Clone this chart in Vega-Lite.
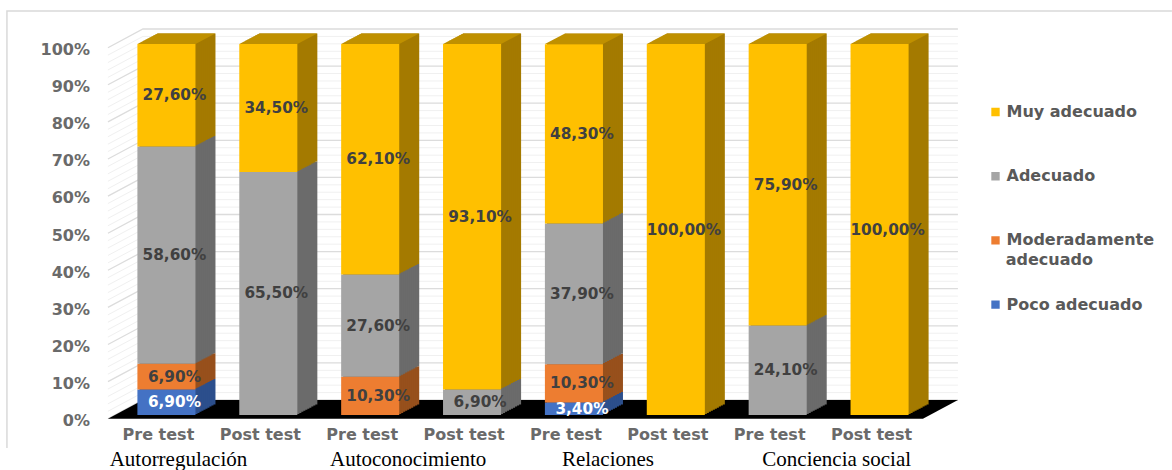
{"$schema":"https://vega.github.io/schema/vega-lite/v6.json","width":815,"height":371,"autosize":{"type":"none"},"padding":{"left":115.5,"top":44,"right":241.5,"bottom":55},"background":"white","config":{"view":{"stroke":null},"text":{"font":"DejaVu Sans"}},
"datasets":{
"bars":[
{"bar":"Autorregulación|Pre test","level":"Poco adecuado","rank":1,"value":6.9,"label":"6,90%"},
{"bar":"Autorregulación|Pre test","level":"Moderadamente adecuado","rank":2,"value":6.9,"label":"6,90%"},
{"bar":"Autorregulación|Pre test","level":"Adecuado","rank":3,"value":58.6,"label":"58,60%"},
{"bar":"Autorregulación|Pre test","level":"Muy adecuado","rank":4,"value":27.6,"label":"27,60%"},
{"bar":"Autorregulación|Post test","level":"Adecuado","rank":3,"value":65.5,"label":"65,50%"},
{"bar":"Autorregulación|Post test","level":"Muy adecuado","rank":4,"value":34.5,"label":"34,50%"},
{"bar":"Autoconocimiento|Pre test","level":"Moderadamente adecuado","rank":2,"value":10.3,"label":"10,30%"},
{"bar":"Autoconocimiento|Pre test","level":"Adecuado","rank":3,"value":27.6,"label":"27,60%"},
{"bar":"Autoconocimiento|Pre test","level":"Muy adecuado","rank":4,"value":62.1,"label":"62,10%"},
{"bar":"Autoconocimiento|Post test","level":"Adecuado","rank":3,"value":6.9,"label":"6,90%"},
{"bar":"Autoconocimiento|Post test","level":"Muy adecuado","rank":4,"value":93.1,"label":"93,10%"},
{"bar":"Relaciones|Pre test","level":"Poco adecuado","rank":1,"value":3.4,"label":"3,40%"},
{"bar":"Relaciones|Pre test","level":"Moderadamente adecuado","rank":2,"value":10.3,"label":"10,30%"},
{"bar":"Relaciones|Pre test","level":"Adecuado","rank":3,"value":37.9,"label":"37,90%"},
{"bar":"Relaciones|Pre test","level":"Muy adecuado","rank":4,"value":48.3,"label":"48,30%"},
{"bar":"Relaciones|Post test","level":"Muy adecuado","rank":4,"value":100,"label":"100,00%"},
{"bar":"Conciencia social|Pre test","level":"Adecuado","rank":3,"value":24.1,"label":"24,10%"},
{"bar":"Conciencia social|Pre test","level":"Muy adecuado","rank":4,"value":75.9,"label":"75,90%"},
{"bar":"Conciencia social|Post test","level":"Muy adecuado","rank":4,"value":100,"label":"100,00%"}
],
"tops":[{"bar":"Autorregulación|Pre test","at":100},{"bar":"Autorregulación|Post test","at":100},{"bar":"Autoconocimiento|Pre test","at":100},{"bar":"Autoconocimiento|Post test","at":100},{"bar":"Relaciones|Pre test","at":100},{"bar":"Relaciones|Post test","at":100},{"bar":"Conciencia social|Pre test","at":100},{"bar":"Conciencia social|Post test","at":100}],
"grid":[{"bar":"Relaciones|Pre test","at":0,"major":true},{"bar":"Relaciones|Pre test","at":2,"major":false},{"bar":"Relaciones|Pre test","at":4,"major":false},{"bar":"Relaciones|Pre test","at":6,"major":false},{"bar":"Relaciones|Pre test","at":8,"major":false},{"bar":"Relaciones|Pre test","at":10,"major":true},{"bar":"Relaciones|Pre test","at":12,"major":false},{"bar":"Relaciones|Pre test","at":14,"major":false},{"bar":"Relaciones|Pre test","at":16,"major":false},{"bar":"Relaciones|Pre test","at":18,"major":false},{"bar":"Relaciones|Pre test","at":20,"major":true},{"bar":"Relaciones|Pre test","at":22,"major":false},{"bar":"Relaciones|Pre test","at":24,"major":false},{"bar":"Relaciones|Pre test","at":26,"major":false},{"bar":"Relaciones|Pre test","at":28,"major":false},{"bar":"Relaciones|Pre test","at":30,"major":true},{"bar":"Relaciones|Pre test","at":32,"major":false},{"bar":"Relaciones|Pre test","at":34,"major":false},{"bar":"Relaciones|Pre test","at":36,"major":false},{"bar":"Relaciones|Pre test","at":38,"major":false},{"bar":"Relaciones|Pre test","at":40,"major":true},{"bar":"Relaciones|Pre test","at":42,"major":false},{"bar":"Relaciones|Pre test","at":44,"major":false},{"bar":"Relaciones|Pre test","at":46,"major":false},{"bar":"Relaciones|Pre test","at":48,"major":false},{"bar":"Relaciones|Pre test","at":50,"major":true},{"bar":"Relaciones|Pre test","at":52,"major":false},{"bar":"Relaciones|Pre test","at":54,"major":false},{"bar":"Relaciones|Pre test","at":56,"major":false},{"bar":"Relaciones|Pre test","at":58,"major":false},{"bar":"Relaciones|Pre test","at":60,"major":true},{"bar":"Relaciones|Pre test","at":62,"major":false},{"bar":"Relaciones|Pre test","at":64,"major":false},{"bar":"Relaciones|Pre test","at":66,"major":false},{"bar":"Relaciones|Pre test","at":68,"major":false},{"bar":"Relaciones|Pre test","at":70,"major":true},{"bar":"Relaciones|Pre test","at":72,"major":false},{"bar":"Relaciones|Pre test","at":74,"major":false},{"bar":"Relaciones|Pre test","at":76,"major":false},{"bar":"Relaciones|Pre test","at":78,"major":false},{"bar":"Relaciones|Pre test","at":80,"major":true},{"bar":"Relaciones|Pre test","at":82,"major":false},{"bar":"Relaciones|Pre test","at":84,"major":false},{"bar":"Relaciones|Pre test","at":86,"major":false},{"bar":"Relaciones|Pre test","at":88,"major":false},{"bar":"Relaciones|Pre test","at":90,"major":true},{"bar":"Relaciones|Pre test","at":92,"major":false},{"bar":"Relaciones|Pre test","at":94,"major":false},{"bar":"Relaciones|Pre test","at":96,"major":false},{"bar":"Relaciones|Pre test","at":98,"major":false},{"bar":"Relaciones|Pre test","at":100,"major":true}]
},
"data":{"name":"bars"},
"encoding":{
"x":{"field":"bar","type":"nominal","title":null,"scale":{"domain":["Autorregulación|Pre test","Autorregulación|Post test","Autoconocimiento|Pre test","Autoconocimiento|Post test","Relaciones|Pre test","Relaciones|Post test","Conciencia social|Pre test","Conciencia social|Post test"],"paddingInner":0.43,"paddingOuter":0.215},"axis":{"labelExpr":"split(datum.value,'|')[1]","labelAngle":0,"domain":false,"ticks":false,"labelFont":"DejaVu Sans","labelFontWeight":"bold","labelFontSize":16,"labelColor":"#6a6a6a","labelOffset":-8,"labelPadding":19,"labelBaseline":"middle","zindex":1}},
"y":{"field":"value","type":"quantitative","stack":"zero","title":null,"scale":{"domain":[0,100],"nice":false},"axis":{"values":[0,10,20,30,40,50,60,70,80,90,100],"labelExpr":"datum.value+'%'","domain":false,"ticks":false,"grid":false,"labelFont":"DejaVu Sans","labelFontWeight":"bold","labelFontSize":16,"labelColor":"#6a6a6a","labelPadding":26,"labelOffset":5.5}}
},
"layer":[
{"data":{"values":[{"bar":"Relaciones|Pre test","at":100}]},"mark":{"type":"point","shape":"M-1.134,0.808L-1.134,-0.066L1.196,-0.066","size":1000000,"filled":false,"stroke":"#d9d9d9","strokeWidth":1.5,"opacity":1},"encoding":{"y":{"field":"at","type":"quantitative","stack":null}}},
{"data":{"name":"grid"},"mark":{"type":"point","shape":"M-0.932,0.0074L-0.862,-0.03L0.768,-0.03","size":1000000,"filled":false,"opacity":1},"encoding":{"y":{"field":"at","type":"quantitative","stack":null},"stroke":{"condition":{"test":"datum.major","value":"#dcdcdc"},"value":"#f0f0f0"},"strokeWidth":{"condition":{"test":"datum.major","value":1.3},"value":1}}},
{"data":{"values":[{"bar":"Relaciones|Pre test","at":0}]},"mark":{"type":"point","shape":"M-0.932,0.0074L0.698,0.0074L0.768,-0.03L-0.862,-0.03Z","size":1000000,"filled":true,"fill":"#000000","opacity":1},"encoding":{"y":{"field":"at","type":"quantitative","stack":null}}},
{"encoding":{"order":{"field":"rank","type":"ordinal"},"fill":{"field":"level","type":"nominal","legend":null,"scale":{"domain":["Poco adecuado","Moderadamente adecuado","Adecuado","Muy adecuado"],"range":["#2c4f8c","#97501c","#6b6b6b","#a47a00"]}}},
"layer":[
{"mark":{"type":"bar","xOffset":20,"x2Offset":20,"yOffset":-10.5,"y2Offset":-10.5}},
{"mark":{"type":"bar","xOffset":18,"x2Offset":18,"yOffset":-9.45,"y2Offset":-9.45}},
{"mark":{"type":"bar","xOffset":16,"x2Offset":16,"yOffset":-8.4,"y2Offset":-8.4}},
{"mark":{"type":"bar","xOffset":14,"x2Offset":14,"yOffset":-7.35,"y2Offset":-7.35}},
{"mark":{"type":"bar","xOffset":12,"x2Offset":12,"yOffset":-6.3,"y2Offset":-6.3}},
{"mark":{"type":"bar","xOffset":10,"x2Offset":10,"yOffset":-5.25,"y2Offset":-5.25}},
{"mark":{"type":"bar","xOffset":8,"x2Offset":8,"yOffset":-4.2,"y2Offset":-4.2}},
{"mark":{"type":"bar","xOffset":6,"x2Offset":6,"yOffset":-3.15,"y2Offset":-3.15}},
{"mark":{"type":"bar","xOffset":4,"x2Offset":4,"yOffset":-2.1,"y2Offset":-2.1}},
{"mark":{"type":"bar","xOffset":2,"x2Offset":2,"yOffset":-1.05,"y2Offset":-1.05}}
]},
{"data":{"name":"tops"},"mark":{"type":"point","shape":"M-0.58,0L0.58,0L0.98,-0.21L-0.18,-0.21Z","size":10000,"filled":true,"fill":"#bf9000","opacity":1},"encoding":{"y":{"field":"at","type":"quantitative","stack":null}}},
{"mark":{"type":"bar"},"encoding":{"order":{"field":"rank","type":"ordinal"},"color":{"field":"level","type":"nominal","title":"","scale":{"domain":["Muy adecuado","Adecuado","Moderadamente adecuado","Poco adecuado"],"range":["#ffc000","#a5a5a5","#ed7d31","#4472c4"]},"legend":{"orient":"none","legendX":872,"legendY":60,"symbolType":"square","symbolSize":70,"labelFont":"DejaVu Sans","labelFontWeight":"bold","labelFontSize":16,"labelColor":"#595959","labelLimit":200,"labelOffset":3,"rowPadding":48.2,"clipHeight":16,"labelBaseline":"middle","labelExpr":"datum.label==='Moderadamente adecuado'?'Moderadamente':datum.label"}}}},
{"mark":{"type":"text","font":"DejaVu Sans","fontWeight":"bold","fontSize":15.3,"dx":8},"encoding":{"order":{"field":"rank","type":"ordinal"},"y":{"field":"value","type":"quantitative","stack":"zero","bandPosition":0.5},"text":{"field":"label","type":"nominal"},"color":{"condition":{"test":"datum.level==='Poco adecuado'","value":"#ffffff"},"value":"#404040"}}},
{"data":{"values":[{"bar":"Conciencia social|Post test","at":41.7,"group":"adecuado"}]},"mark":{"type":"text","font":"DejaVu Sans","fontWeight":"bold","fontSize":16,"color":"#595959","align":"left","baseline":"middle","dx":126.2},"encoding":{"y":{"field":"at","type":"quantitative","stack":null},"text":{"field":"group"}}},
{"data":{"values":[{"bar":"Autorregulación|Pre test","at":0,"group":"Autorregulación"}]},"mark":{"type":"text","font":"Liberation Serif","fontSize":21,"color":"#000000","dx":12,"dy":45,"baseline":"middle"},"encoding":{"y":{"field":"at","type":"quantitative","stack":null},"text":{"field":"group"}}},
{"data":{"values":[{"bar":"Autoconocimiento|Pre test","at":0,"group":"Autoconocimiento"}]},"mark":{"type":"text","font":"Liberation Serif","fontSize":21,"color":"#000000","dx":38,"dy":45,"baseline":"middle"},"encoding":{"y":{"field":"at","type":"quantitative","stack":null},"text":{"field":"group"}}},
{"data":{"values":[{"bar":"Relaciones|Pre test","at":0,"group":"Relaciones"}]},"mark":{"type":"text","font":"Liberation Serif","fontSize":21,"color":"#000000","dx":34,"dy":45,"baseline":"middle"},"encoding":{"y":{"field":"at","type":"quantitative","stack":null},"text":{"field":"group"}}},
{"data":{"values":[{"bar":"Conciencia social|Pre test","at":0,"group":"Conciencia social"}]},"mark":{"type":"text","font":"Liberation Serif","fontSize":21,"color":"#000000","dx":59,"dy":45,"baseline":"middle"},"encoding":{"y":{"field":"at","type":"quantitative","stack":null},"text":{"field":"group"}}}
]}
